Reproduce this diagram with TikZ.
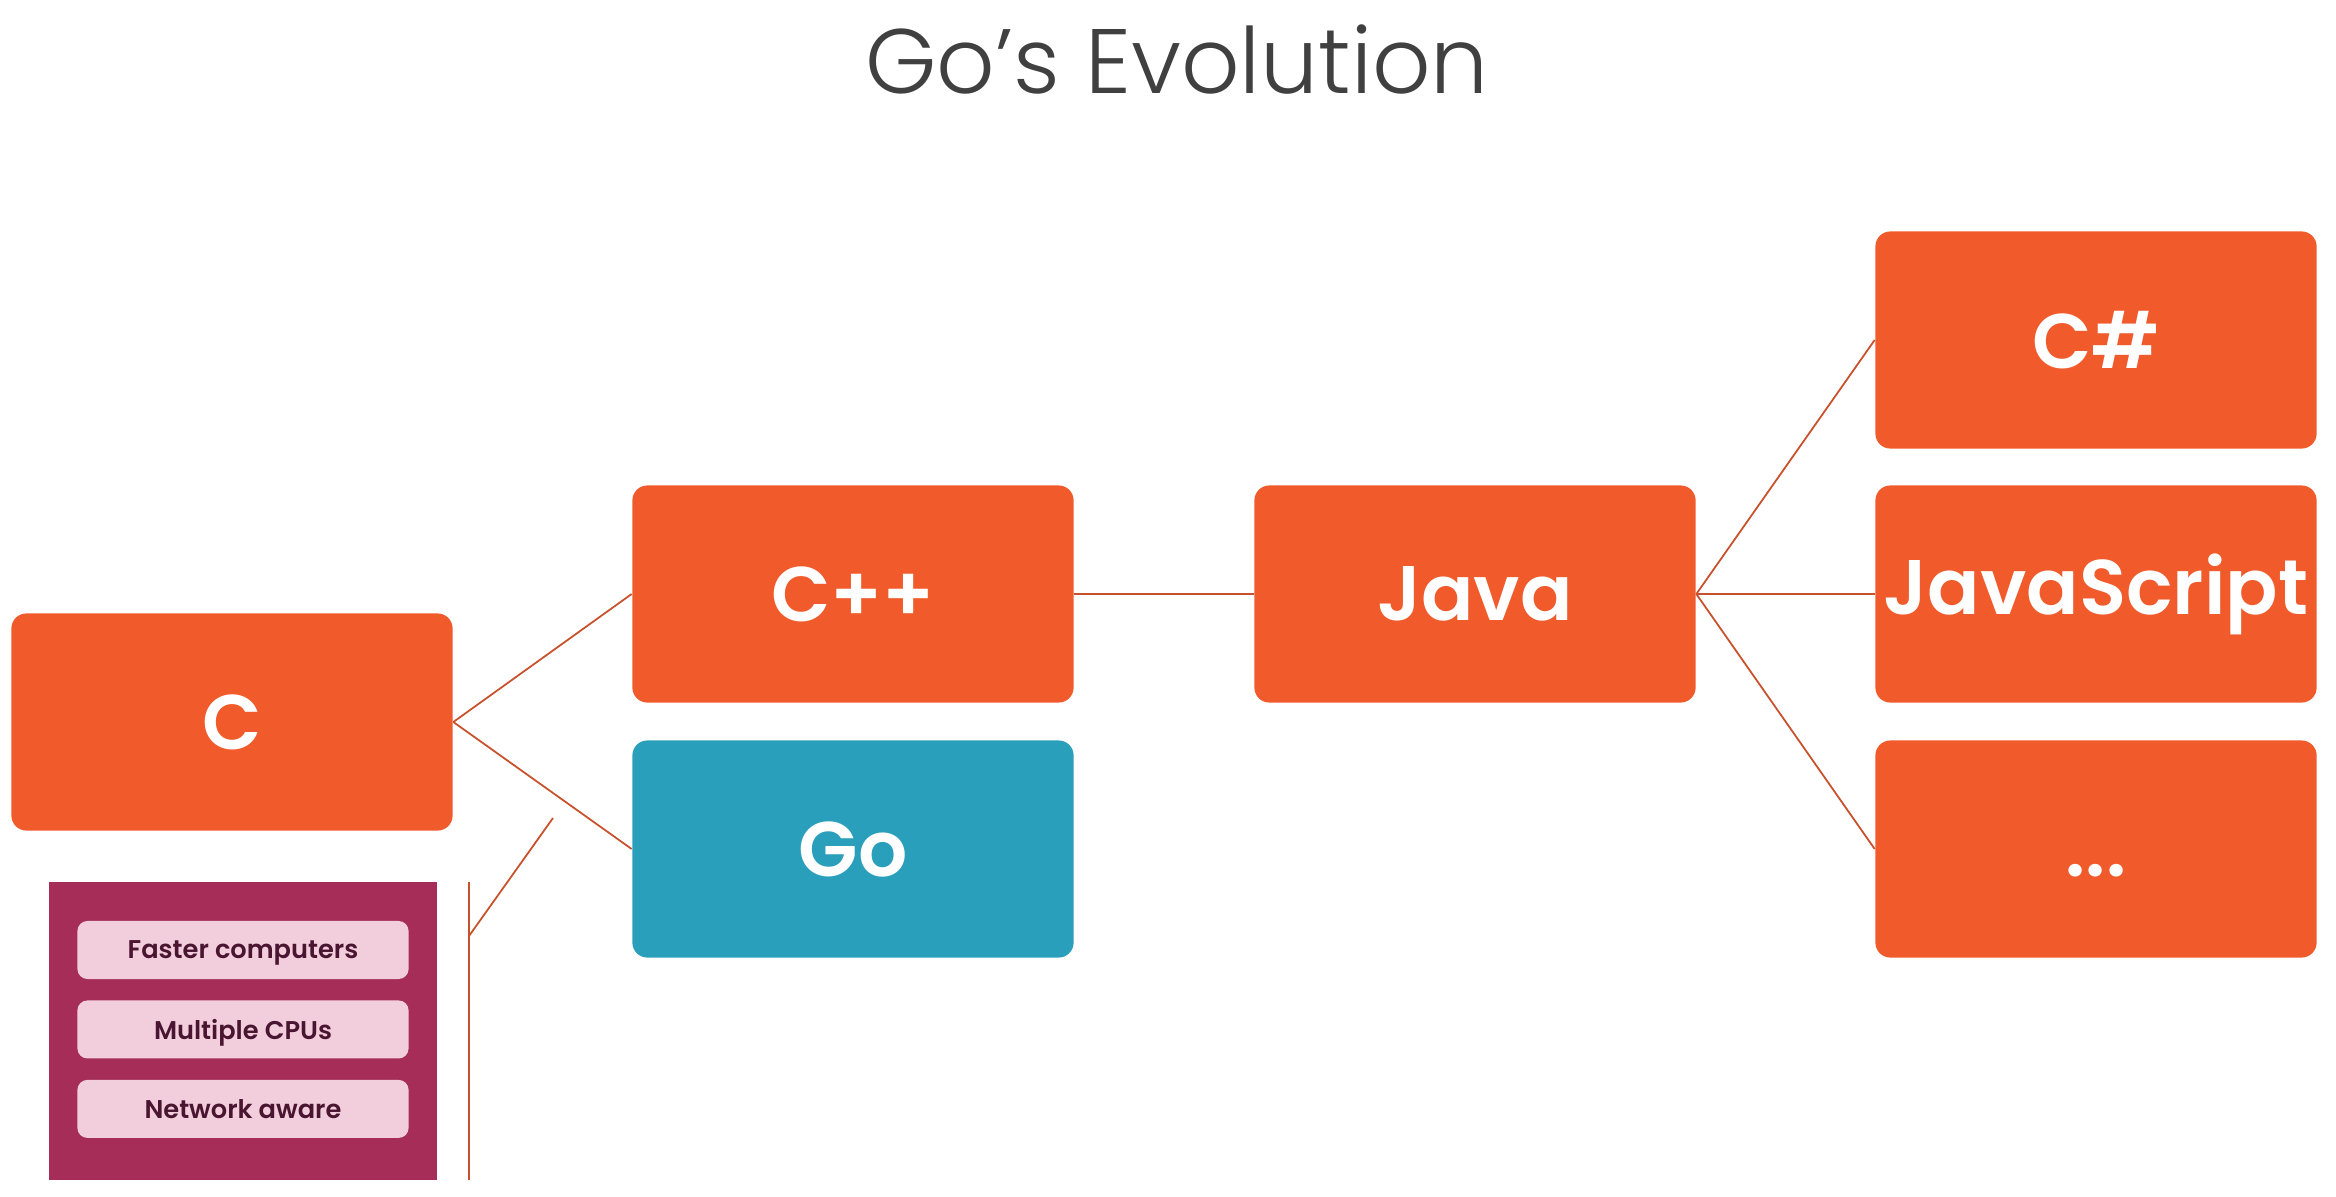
\documentclass[tikz,border=0pt]{standalone}
\usepackage{fontspec}
\setmainfont{Poppins}[BoldFont={Poppins SemiBold}]
\newfontfamily\titlefont{Poppins Light}
\usetikzlibrary{positioning}
\definecolor{langorange}{HTML}{F15A2B}
\definecolor{goteal}{HTML}{2A9FBC}
\definecolor{needpurple}{HTML}{A52D58}
\definecolor{needpink}{HTML}{F2CEDD}
\definecolor{needtext}{HTML}{4A1530}
\definecolor{linkline}{HTML}{C8502A}
\definecolor{titlegray}{HTML}{404040}
\tikzset{
  lang/.style={rectangle, rounded corners=0.15cm, fill=langorange, text=white,
    minimum width=4.41cm, minimum height=2.17cm, inner sep=0pt,
    font=\bfseries\fontsize{22}{26}\selectfont},
  need/.style={rectangle, rounded corners=0.1cm, fill=needpink, text=needtext,
    minimum width=3.31cm, minimum height=0.58cm, inner sep=0pt, text depth=0pt,
    font=\bfseries\fontsize{7.3}{9}\selectfont},
  link/.style={draw=linkline, line width=0.5pt}
}

\begin{document}
\begin{tikzpicture}[x=0.01cm,y=-0.01cm]
      \useasboundingbox (0,0) rectangle (2336,1197);
      \node[font=\titlefont\fontsize{26}{30}\selectfont, text=titlegray] (title) at (1177,60) {Go’s Evolution};
      % language family
      \node[lang] (c) at (232,722) {C};
      \node[lang] (cpp) at (853,594) {C++};
      \node[lang, fill=goteal] (go) at (853,849) {Go};
      \node[lang] (java) at (1475,594) {Java};
      \node[lang] (csharp) at (2096,340) {C\#};
      \node[lang] (js) at (2096,594) {JavaScript};
      \node[lang] (more) at (2096,849) {\vphantom{C}...};
      \draw[link] (c.east) -- (cpp.west);
      \draw[link] (c.east) -- (go.west);
      \draw[link] (cpp.east) -- (java.west);
      \draw[link] (java.east) -- (csharp.west);
      \draw[link] (java.east) -- (js.west);
      \draw[link] (java.east) -- (more.west);
      % what Go was made for
      \node[fill=needpurple, minimum width=3.88cm, minimum height=2.98cm, inner sep=0pt] (needs) at (243,1031) {};
      \node[need] (fast) at (243,950) {Faster computers};
      \node[need, below=0.2cm of fast] (cpus) {Multiple CPUs};
      \node[need, below=0.2cm of cpus] (net) {Network aware};
      \coordinate (bartop) at (469,882);
      \coordinate (barbottom) at (469,1180);
      \coordinate (barmid) at (469,936);
      \coordinate (bartip) at (553,818);
      \draw[link] (bartop) -- (barbottom);
      \draw[link] (barmid) -- (bartip);
\end{tikzpicture}
\end{document}
